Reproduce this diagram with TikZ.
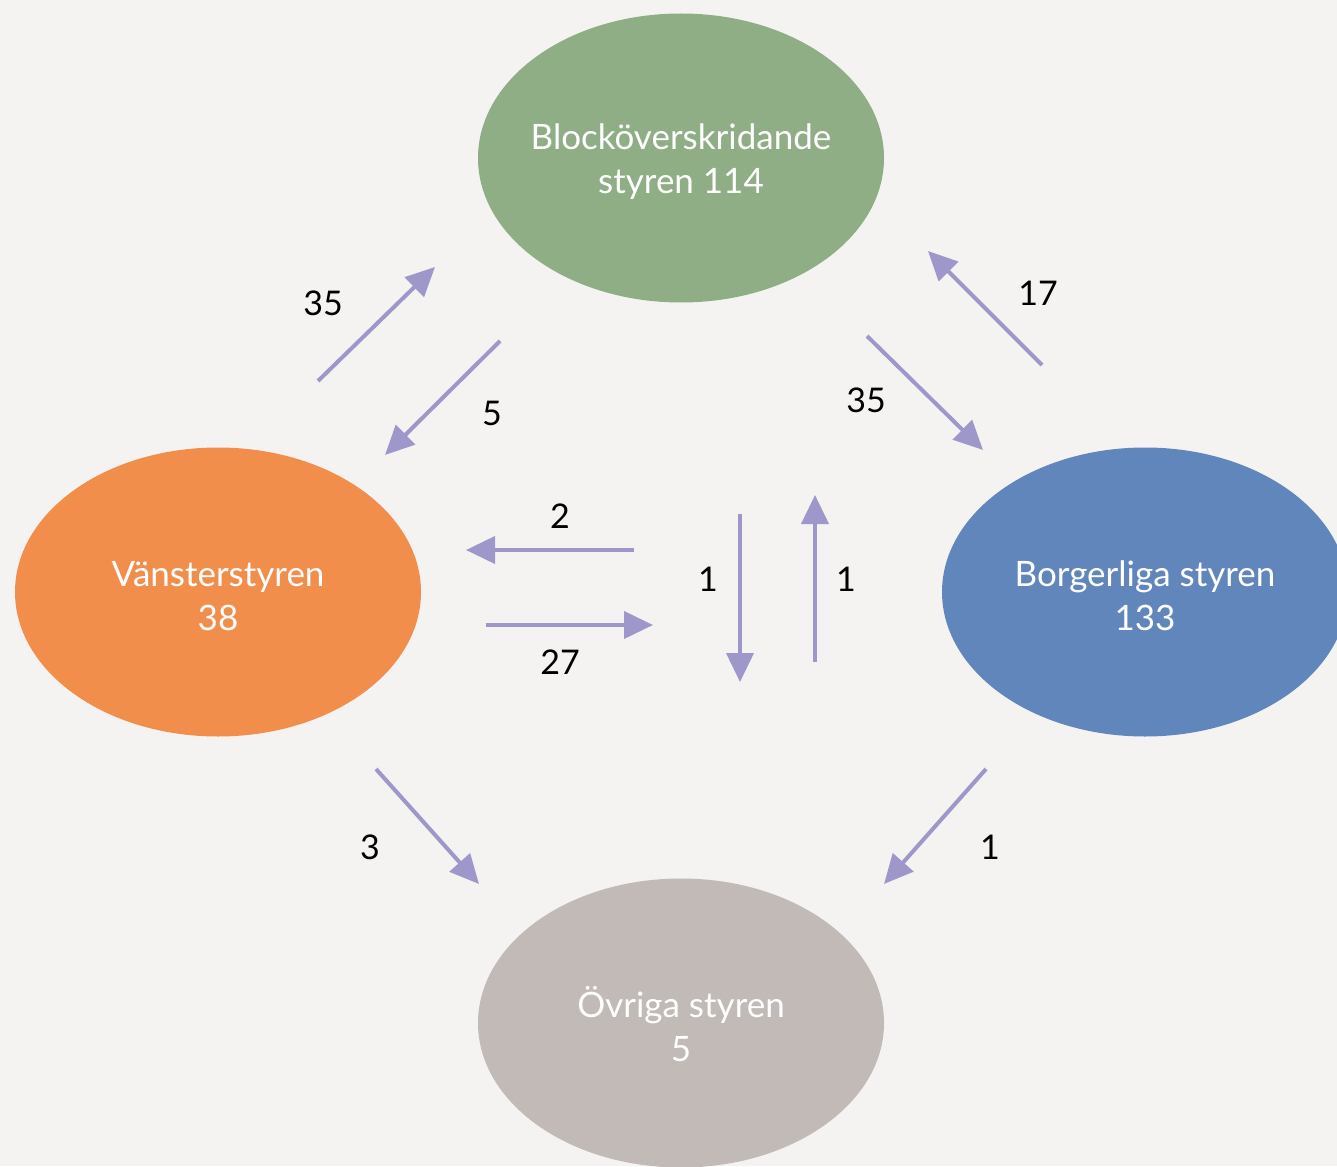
\documentclass[tikz,border=0pt]{standalone}
\usepackage{fontspec}
\setmainfont{Lato}
\usetikzlibrary{shapes.geometric,arrows.meta}
\definecolor{bg}{RGB}{244,243,242}
\definecolor{cgreen}{RGB}{143,174,133}
\definecolor{corange}{RGB}{242,142,76}
\definecolor{cblue}{RGB}{97,134,187}
\definecolor{cgray}{RGB}{193,186,182}
\definecolor{carrow}{RGB}{157,152,201}
\newcommand{\toppad}{\rule{0pt}{34pt}}
\tikzset{
  blob/.style={ellipse, draw=none, minimum width=406pt, minimum height=289pt, inner sep=-40pt,
    text=white, align=center, font=\fontsize{35}{44}\selectfont},
  flow/.style={draw=carrow, line width=4pt, -{Triangle[length=29pt,width=27pt]}},
  num/.style={text=black, font=\fontsize{34}{40}\selectfont, inner sep=0pt}
}
\begin{document}
\begin{tikzpicture}[x=1pt,y=-1pt]
\fill[bg] (0,0) rectangle (1337,1166);
\useasboundingbox (0,0) rectangle (1337,1166);
\begin{scope}
\clip (0,0) rectangle (1337,1166);
\node[blob, fill=cgreen] (block) at (681,158) {\toppad Blocköverskridande\\styren 114};
\node[blob, fill=corange] (vanster) at (218,592) {\toppad Vänsterstyren\\38};
\node[blob, fill=cblue] (borg) at (1145,592) {\toppad Borgerliga styren\\133};
\node[blob, fill=cgray] (ovr) at (681,1023) {\toppad Övriga styren\\5};
\end{scope}
% arrow endpoints
\coordinate (a1s) at (318,381); \coordinate (a1e) at (435,267);
\coordinate (a2s) at (500,341); \coordinate (a2e) at (385,455);
\coordinate (a3s) at (867,336); \coordinate (a3e) at (983,450);
\coordinate (a4s) at (1042,365); \coordinate (a4e) at (928,251);
\coordinate (a5s) at (634,550); \coordinate (a5e) at (466,550);
\coordinate (a6s) at (486,625); \coordinate (a6e) at (653,625);
\coordinate (a7s) at (740,514); \coordinate (a7e) at (740,682);
\coordinate (a8s) at (815,662); \coordinate (a8e) at (815,495);
\coordinate (a9s) at (376,769); \coordinate (a9e) at (479,884);
\coordinate (a10s) at (986,769); \coordinate (a10e) at (884,884);
\draw[flow] (a1s) -- (a1e);
\draw[flow] (a2s) -- (a2e);
\draw[flow] (a3s) -- (a3e);
\draw[flow] (a4s) -- (a4e);
\draw[flow] (a5s) -- (a5e);
\draw[flow] (a6s) -- (a6e);
\draw[flow] (a7s) -- (a7e);
\draw[flow] (a8s) -- (a8e);
\draw[flow] (a9s) -- (a9e);
\draw[flow] (a10s) -- (a10e);
% labels
\node[num] (l1) at (323,303) {35};
\node[num] (l2) at (492,413) {5};
\node[num] (l3) at (866,400) {35};
\node[num] (l4) at (1038,293) {17};
\node[num] (l5) at (560,516) {2};
\node[num] (l6) at (560,662) {27};
\node[num] (l7) at (708,579) {1};
\node[num] (l8) at (846,579) {1};
\node[num] (l9) at (370,847) {3};
\node[num] (l10) at (990,847) {1};
\end{tikzpicture}
\end{document}
